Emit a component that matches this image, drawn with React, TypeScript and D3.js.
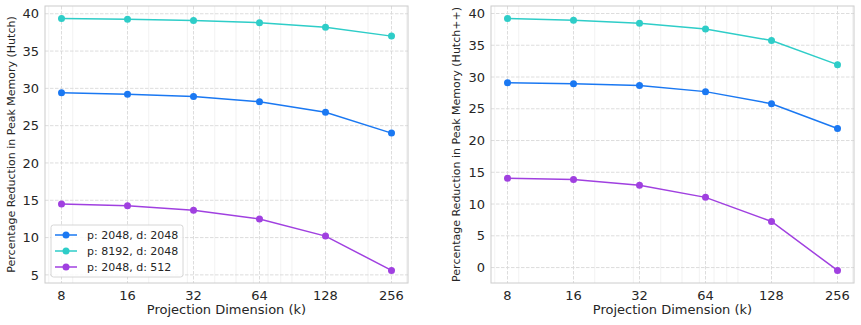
import { useEffect, useRef } from 'react';
import * as d3 from 'd3';

const WIDTH = 861;
const HEIGHT = 325;

// projection dimensions (x axis, log2)
const dims = [8, 16, 32, 64, 128, 256];

const seriesNames = ['p: 2048, d: 2048', 'p: 8192, d: 2048', 'p: 2048, d: 512'];
const seriesColors = ['#1a78f2', '#2ecdc8', '#a040e0'];

// Hutch panel
const hutchP2048D2048 = [29.4, 29.2, 28.9, 28.2, 26.8, 24.0];
const hutchP8192D2048 = [39.35, 39.25, 39.1, 38.8, 38.2, 37.0];
const hutchP2048D512 = [14.5, 14.25, 13.65, 12.5, 10.2, 5.6];

// Hutch++ panel
const hppP2048D2048 = [29.1, 28.95, 28.65, 27.7, 25.8, 21.9];
const hppP8192D2048 = [39.2, 38.95, 38.45, 37.55, 35.75, 31.95];
const hppP2048D512 = [14.05, 13.85, 12.95, 11.05, 7.25, -0.45];

const hutchTicks = [5, 10, 15, 20, 25, 30, 35, 40];
const hppTicks = [0, 5, 10, 15, 20, 25, 30, 35, 40];
const minorX = [7, 9, 20, 30, 40, 50, 60, 70, 80, 90, 200, 300];

const FONT = 'DejaVu Sans, sans-serif';
const TEXT = '#262626';

type Panel = {
  left: number;
  right: number;
  series: number[][];
  yTicks: number[];
  yLabel: string;
  yLabelX: number;
  legend: boolean;
};

const panels: Panel[] = [
  {
    left: 45,
    right: 408,
    series: [hutchP2048D2048, hutchP8192D2048, hutchP2048D512],
    yTicks: hutchTicks,
    yLabel: 'Percentage Reduction in Peak Memory (Hutch)',
    yLabelX: 15,
    legend: true,
  },
  {
    left: 491,
    right: 854,
    series: [hppP2048D2048, hppP8192D2048, hppP2048D512],
    yTicks: hppTicks,
    yLabel: 'Percentage Reduction in Peak Memory (Hutch++)',
    yLabelX: 460,
    legend: false,
  },
];

const TOP = 6;
const BOTTOM = 283;

export default function App() {
  const svgRef = useRef<SVGSVGElement>(null);

  useEffect(() => {
    if (!svgRef.current) return;
    const svg = d3.select(svgRef.current);
    svg.selectAll('*').remove();

    panels.forEach((p) => {
      // matplotlib-like 5% margins (in log space for x)
      const lx0 = Math.log2(dims[0]);
      const lx1 = Math.log2(dims[dims.length - 1]);
      const padX = (lx1 - lx0) * 0.05;
      const xScale = d3
        .scaleLog()
        .base(2)
        .domain([2 ** (lx0 - padX), 2 ** (lx1 + padX)])
        .range([p.left, p.right]);

      const all = p.series.flat();
      const yMin = d3.min(all)!;
      const yMax = d3.max(all)!;
      const padY = (yMax - yMin) * 0.05;
      const yScale = d3
        .scaleLinear()
        .domain([yMin - padY, yMax + padY])
        .range([BOTTOM, TOP]);

      const g = svg.append('g');

      // minor x grid
      g.selectAll('.minor')
        .data(minorX.filter((v) => xScale(v) > p.left && xScale(v) < p.right))
        .join('line')
        .attr('x1', (d) => xScale(d))
        .attr('x2', (d) => xScale(d))
        .attr('y1', TOP)
        .attr('y2', BOTTOM)
        .attr('stroke', '#efefef')
        .attr('stroke-width', 0.8);

      // major grid
      g.selectAll('.gx')
        .data(dims)
        .join('line')
        .attr('x1', (d) => xScale(d))
        .attr('x2', (d) => xScale(d))
        .attr('y1', TOP)
        .attr('y2', BOTTOM)
        .attr('stroke', '#d9d9d9')
        .attr('stroke-width', 0.9)
        .attr('stroke-dasharray', '3.5,1.5');

      g.selectAll('.gy')
        .data(p.yTicks)
        .join('line')
        .attr('x1', p.left)
        .attr('x2', p.right)
        .attr('y1', (d) => yScale(d))
        .attr('y2', (d) => yScale(d))
        .attr('stroke', '#d9d9d9')
        .attr('stroke-width', 0.9)
        .attr('stroke-dasharray', '3.5,1.5');

      // frame
      g.append('rect')
        .attr('x', p.left)
        .attr('y', TOP)
        .attr('width', p.right - p.left)
        .attr('height', BOTTOM - TOP)
        .attr('fill', 'none')
        .attr('stroke', '#cccccc')
        .attr('stroke-width', 1);

      // tick labels
      g.selectAll('.ytl')
        .data(p.yTicks)
        .join('text')
        .attr('x', p.left - 6)
        .attr('y', (d) => yScale(d))
        .attr('dy', '0.36em')
        .attr('text-anchor', 'end')
        .style('font-family', FONT)
        .style('font-size', '13px')
        .style('fill', TEXT)
        .text((d) => String(d));

      g.selectAll('.xtl')
        .data(dims)
        .join('text')
        .attr('x', (d) => xScale(d))
        .attr('y', 299.5)
        .attr('text-anchor', 'middle')
        .style('font-family', FONT)
        .style('font-size', '13px')
        .style('fill', TEXT)
        .text((d) => String(d));

      g.append('text')
        .attr('x', (p.left + p.right) / 2)
        .attr('y', 314)
        .attr('text-anchor', 'middle')
        .style('font-family', FONT)
        .style('font-size', '13px')
        .style('fill', TEXT)
        .text('Projection Dimension (k)');

      g.append('text')
        .attr('transform', `translate(${p.yLabelX}, ${(TOP + BOTTOM) / 2}) rotate(-90)`)
        .attr('text-anchor', 'middle')
        .style('font-family', FONT)
        .style('font-size', '11px')
        .style('fill', TEXT)
        .text(p.yLabel);

      // lines + markers
      const line = d3
        .line<number>()
        .x((_, i) => xScale(dims[i]))
        .y((d) => yScale(d));

      p.series.forEach((s, si) => {
        g.append('path')
          .datum(s)
          .attr('d', line)
          .attr('fill', 'none')
          .attr('stroke', seriesColors[si])
          .attr('stroke-width', 1.5);
        g.selectAll(`.m${si}`)
          .data(s)
          .join('circle')
          .attr('cx', (_, i) => xScale(dims[i]))
          .attr('cy', (d) => yScale(d))
          .attr('r', 3.5)
          .attr('fill', seriesColors[si]);
      });

      // legend
      if (p.legend) {
        const lg = g.append('g').attr('transform', 'translate(51, 225)');
        lg.append('rect')
          .attr('width', 132)
          .attr('height', 52)
          .attr('rx', 2.5)
          .attr('fill', 'rgba(255,255,255,0.85)')
          .attr('stroke', '#cccccc')
          .attr('stroke-width', 0.8);
        seriesNames.forEach((name, i) => {
          const cy = 10 + i * 16;
          lg.append('line')
            .attr('x1', 4)
            .attr('x2', 26)
            .attr('y1', cy)
            .attr('y2', cy)
            .attr('stroke', seriesColors[i])
            .attr('stroke-width', 1.5);
          lg.append('circle')
            .attr('cx', 15)
            .attr('cy', cy)
            .attr('r', 3.5)
            .attr('fill', seriesColors[i]);
          lg.append('text')
            .attr('x', 36)
            .attr('y', cy)
            .attr('dy', '0.36em')
            .style('font-family', FONT)
            .style('font-size', '11px')
            .style('fill', TEXT)
            .text(name);
        });
      }
    });
  }, []);

  return (
    <svg
      ref={svgRef}
      width={WIDTH}
      height={HEIGHT}
      style={{ position: 'absolute', left: 0, top: 0, background: '#fff' }}
    />
  );
}
